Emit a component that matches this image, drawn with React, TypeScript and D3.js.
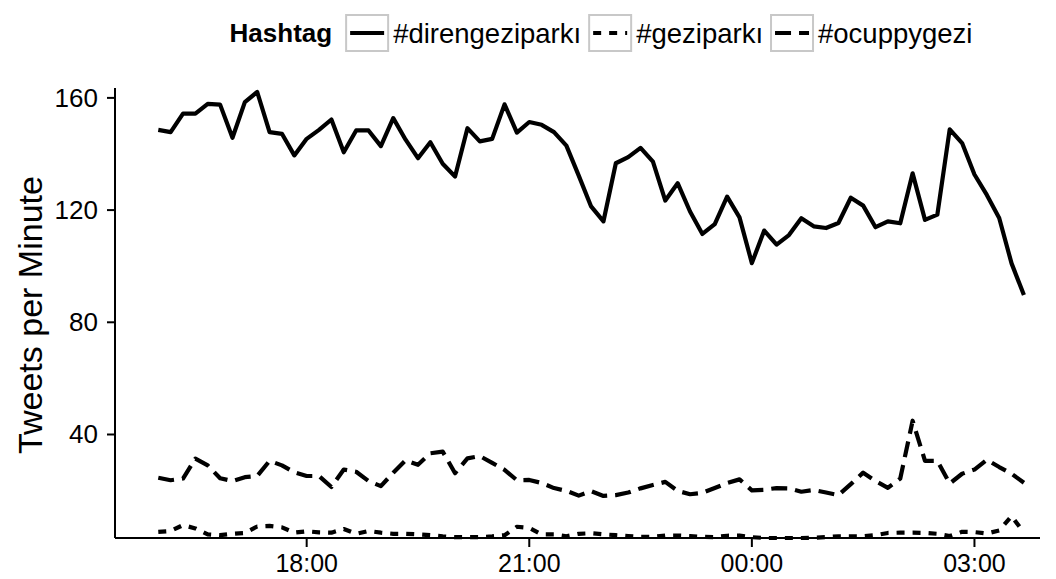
import React, { useMemo } from "react";
import * as d3 from "d3";

const times = [
  "16:00", "16:10", "16:20", "16:30", "16:40", "16:50",
  "17:00", "17:10", "17:20", "17:30", "17:40", "17:50",
  "18:00", "18:10", "18:20", "18:30", "18:40", "18:50",
  "19:00", "19:10", "19:20", "19:30", "19:40", "19:50",
  "20:00", "20:10", "20:20", "20:30", "20:40", "20:50",
  "21:00", "21:10", "21:20", "21:30", "21:40", "21:50",
  "22:00", "22:10", "22:20", "22:30", "22:40", "22:50",
  "23:00", "23:10", "23:20", "23:30", "23:40", "23:50",
  "00:00", "00:10", "00:20", "00:30", "00:40", "00:50",
  "01:00", "01:10", "01:20", "01:30", "01:40", "01:50",
  "02:00", "02:10", "02:20", "02:30", "02:40", "02:50",
  "03:00", "03:10", "03:20", "03:30", "03:40",
];

const direngeziparki = [
  148.6, 147.8, 154.4, 154.4, 157.9, 157.6, 145.8, 158.5, 162.1, 147.8,
  147.2, 139.5, 145.4, 148.6, 152.3, 140.6, 148.4, 148.4, 142.8, 152.8,
  145.1, 138.5, 144.2, 136.5, 132.0, 149.2, 144.5, 145.4, 157.7, 147.6,
  151.4, 150.4, 147.8, 143.0, 132.3, 121.3, 116.0, 136.7, 138.9, 142.2,
  137.3, 123.4, 129.6, 119.5, 111.5, 115.0, 124.8, 117.4, 101.1, 112.7,
  107.7, 111.1, 117.1, 114.2, 113.6, 115.4, 124.4, 121.6, 113.9, 116.0,
  115.3, 133.1, 116.5, 118.4, 148.8, 143.9, 132.7, 125.4, 117.2, 101.0,
  89.7,
];

const geziparki = [
  5.3, 5.6, 7.7, 6.5, 4.4, 4.1, 4.6, 4.9, 7.2, 7.4,
  6.9, 5.0, 5.5, 5.1, 5.0, 6.3, 4.6, 5.6, 5.0, 4.6,
  4.6, 4.4, 4.1, 3.7, 3.4, 3.4, 3.4, 3.7, 4.1, 7.1,
  6.7, 4.4, 4.4, 3.7, 4.6, 4.8, 4.4, 4.1, 3.8, 3.5,
  3.5, 4.0, 4.0, 3.8, 3.5, 3.4, 3.9, 4.0, 3.4, 3.1,
  3.1, 3.1, 3.1, 3.2, 3.4, 3.7, 3.7, 3.7, 4.1, 4.9,
  5.0, 5.0, 4.9, 4.6, 3.8, 5.3, 5.2, 4.7, 5.8, 10.9,
  5.0,
];

const ocuppygezi = [
  24.6, 23.7, 24.3, 31.4, 29.0, 24.4, 23.4, 24.8, 25.2, 30.6,
  29.0, 26.5, 25.2, 25.2, 21.3, 27.5, 26.7, 23.4, 21.6, 26.4,
  30.8, 29.2, 33.3, 33.9, 26.2, 31.5, 32.3, 29.9, 27.4, 23.7,
  23.8, 22.7, 20.9, 19.9, 18.2, 19.8, 18.1, 18.4, 19.3, 20.8,
  22.0, 23.1, 19.9, 18.7, 19.2, 20.9, 22.7, 24.0, 20.1, 20.3,
  20.9, 20.8, 19.6, 20.2, 19.3, 18.4, 22.3, 26.4, 23.4, 21.0,
  24.3, 44.9, 30.6, 30.6, 22.5, 26.0, 27.5, 31.0, 28.4, 26.0,
  22.8,
];

const seriesNames = ["#direngeziparkı", "#geziparkı", "#ocuppygezi"];
const seriesValues = [direngeziparki, geziparki, ocuppygezi];
const seriesDash = ["none", "8,8", "16,8"];
const yTicks = [40, 80, 120, 160];
const legendTitle = "Hashtag";
const yTitle = "Tweets per Minute";

const W = 1056;
const H = 579;
const FONT = "'Liberation Sans', Arial, Helvetica, sans-serif";

function parseTime(t: string): Date {
  const [h, m] = t.split(":").map(Number);
  return new Date(Date.UTC(2013, 5, h < 12 ? 2 : 1, h, m));
}

let ctx: CanvasRenderingContext2D | null = null;
function measure(text: string, font: string): number {
  if (!ctx) ctx = document.createElement("canvas").getContext("2d");
  if (!ctx) return text.length * 14;
  ctx.font = font;
  return ctx.measureText(text).width;
}

export default function App() {
  const dates = useMemo(() => times.map(parseTime), []);
  const left = 115, right = 1040, top = 92, bottom = 538;

  const x = d3
    .scaleUtc()
    .domain([d3.utcMinute.offset(dates[0], -35), d3.utcMinute.offset(dates[dates.length - 1], 13)])
    .range([left, right]);
  const all = seriesValues.flat();
  const y = d3
    .scaleLinear()
    .domain([d3.min(all) as number, d3.max(all) as number])
    .range([bottom, top]);

  const xTicks = x.ticks(d3.utcHour.every(3) as any);
  const fmt = d3.utcFormat("%H:%M");

  const line = (vals: number[]) =>
    d3
      .line<number>()
      .x((_, i) => x(dates[i]))
      .y((v) => y(v))(vals) as string;

  // legend layout
  const titleFont = 26;
  const legendFont = 27.5;
  const titleW = measure(legendTitle, `bold ${titleFont}px Liberation Sans`);
  const itemW = seriesNames.map((n) => measure(n, `${legendFont}px Liberation Sans`));
  const boxW = 42, boxH = 36, gapTitle = 14, gapText = 5, gapItem = 8;
  const totalW =
    titleW + gapTitle + itemW.reduce((a, w) => a + boxW + gapText + w, 0) + gapItem * (seriesNames.length - 1);
  const legendCx = 601;
  const legendY = 33;
  let cursor = legendCx - totalW / 2;
  const titleX = cursor;
  cursor += titleW + gapTitle;
  const items = seriesNames.map((n, i) => {
    const bx = cursor;
    const tx = bx + boxW + gapText;
    cursor = tx + itemW[i] + gapItem;
    return { n, i, bx, tx };
  });

  const tickFont = 25;

  return (
    <svg
      width={W}
      height={H}
      style={{ position: "absolute", left: 0, top: 0, background: "#fff" }}
      fontFamily={FONT}
    >
      <rect width={W} height={H} fill="#fff" />
      {/* legend */}
      <text x={titleX} y={legendY} dominantBaseline="central" fontSize={titleFont} fontWeight="bold" fill="#000">
        {legendTitle}
      </text>
      {items.map(({ n, i, bx, tx }) => (
        <g key={n}>
          <rect x={bx} y={legendY - boxH / 2} width={boxW} height={boxH} fill="#fff" stroke="#c8c8c8" strokeWidth={2} />
          <line
            x1={bx + 4}
            x2={bx + boxW - 4}
            y1={legendY}
            y2={legendY}
            stroke="#000"
            strokeWidth={4.2}
            strokeDasharray={seriesDash[i]}
          />
          <text x={tx} y={legendY} dominantBaseline="central" fontSize={legendFont} fill="#000">
            {n}
          </text>
        </g>
      ))}

      {/* series */}
      {seriesValues.map((vals, i) => (
        <path
          key={seriesNames[i]}
          d={line(vals)}
          fill="none"
          stroke="#000"
          strokeWidth={4.2}
          strokeDasharray={seriesDash[i]}
          strokeLinejoin="round"
        />
      ))}

      {/* axes */}
      <line x1={left} x2={left} y1={top - 4} y2={bottom} stroke="#000" strokeWidth={2} />
      <line x1={left} x2={right} y1={bottom} y2={bottom} stroke="#000" strokeWidth={2} />
      {yTicks.map((t) => (
        <g key={t}>
          <line x1={left - 8} x2={left} y1={y(t)} y2={y(t)} stroke="#000" strokeWidth={2} />
          <text x={left - 17} y={y(t)} textAnchor="end" dominantBaseline="central" fontSize={26} fill="#000">
            {t}
          </text>
        </g>
      ))}
      {xTicks.map((t) => (
        <g key={+t}>
          <line x1={x(t)} x2={x(t)} y1={bottom} y2={bottom + 9} stroke="#000" strokeWidth={2} />
          <text x={x(t)} y={bottom + 25} textAnchor="middle" dominantBaseline="central" fontSize={tickFont} fill="#000">
            {fmt(t)}
          </text>
        </g>
      ))}
      <text
        transform={`translate(30,${(top + bottom) / 2}) rotate(-90)`}
        textAnchor="middle"
        dominantBaseline="central"
        fontSize={34}
        fill="#000"
      >
        {yTitle}
      </text>
    </svg>
  );
}
